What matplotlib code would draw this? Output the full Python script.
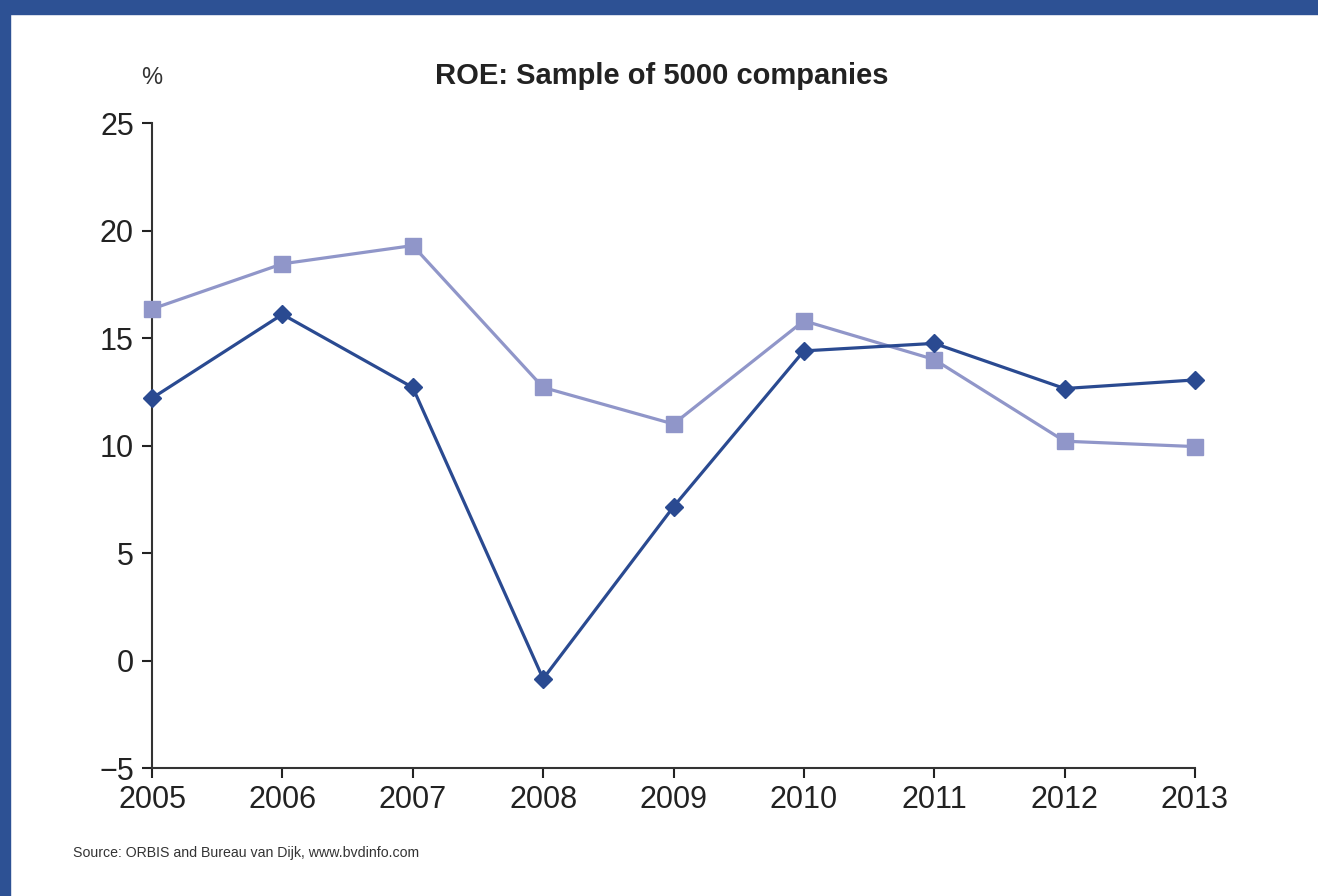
import matplotlib.pyplot as plt
from matplotlib.patches import Rectangle

plt.rcParams['font.family'] = ['Liberation Sans', 'DejaVu Sans']

years = [2005, 2006, 2007, 2008, 2009, 2010, 2011, 2012, 2013]
roe_dark = [12.2, 16.1, 12.7, -0.85, 7.15, 14.4, 14.75, 12.65, 13.05]
roe_light = [16.35, 18.45, 19.3, 12.7, 11.0, 15.8, 14.0, 10.2, 9.95]
yticks = [-5, 0, 5, 10, 15, 20, 25]

dark_col = '#2a4a91'
light_col = '#9096c9'
frame_col = '#2d5194'

fig = plt.figure(figsize=(13.18, 8.96), dpi=100)
fig.patch.set_facecolor('white')

# blue frame: top bar + left edge
fig.add_artist(Rectangle((0, 1 - 14 / 896), 1, 14 / 896, transform=fig.transFigure,
                         color=frame_col, zorder=0))
fig.add_artist(Rectangle((0, 0), 10 / 1318, 1, transform=fig.transFigure,
                         color=frame_col, zorder=0))

ax = fig.add_axes([152 / 1318, 128 / 896, (1195 - 152) / 1318, (768 - 123) / 896])

ax.plot(years, roe_light, color=light_col, lw=2.3, marker='s', ms=11,
        clip_on=False, zorder=3)
ax.plot(years, roe_dark, color=dark_col, lw=2.3, marker='D', ms=9,
        clip_on=False, zorder=4)

ax.set_xlim(2005, 2013)
ax.set_ylim(-5, 25)
ax.set_xticks(years)
ax.set_xticklabels([str(y) for y in years])
ax.set_yticks(yticks)
ax.set_yticklabels(['\u22125' if t < 0 else str(t) for t in yticks])

for s in ['top', 'right']:
    ax.spines[s].set_visible(False)
for s in ['left', 'bottom']:
    ax.spines[s].set_color('#333333')
    ax.spines[s].set_linewidth(1.5)
ax.tick_params(axis='both', colors='#222222', labelsize=22, width=1.5, length=7,
               direction='out')
ax.tick_params(axis='x', pad=5)
ax.tick_params(axis='y', pad=6)

fig.text(662 / 1318, 1 - 76 / 896, 'ROE: Sample of 5000 companies', ha='center',
         va='center', fontsize=21, fontweight='bold', color='#222222')
fig.text(152 / 1318, 1 - 78 / 896, '%', ha='center', va='center', fontsize=17,
         color='#333333')
fig.text(73 / 1318, 1 - 853 / 896, 'Source: ORBIS and Bureau van Dijk, www.bvdinfo.com',
         ha='left', va='center', fontsize=10.2, color='#333333')

fig.savefig('out.png', dpi=100)
